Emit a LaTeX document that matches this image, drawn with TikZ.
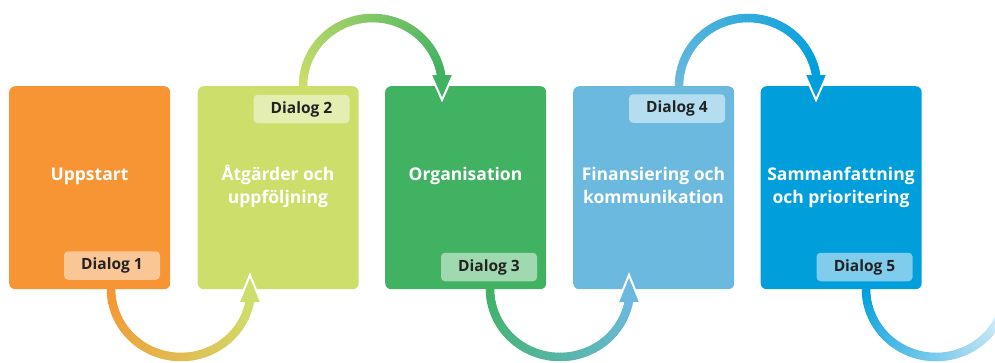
\documentclass[tikz,border=0pt]{standalone}
\usepackage{fontspec}
\usetikzlibrary{calc}
\setmainfont{Open Sans}
\definecolor{cOrange}{HTML}{F79433}
\definecolor{cOrangeL}{HTML}{FAC696}
\definecolor{cLime}{HTML}{CDDF6A}
\definecolor{cLimeL}{HTML}{E3EEB0}
\definecolor{cGreen}{HTML}{40B262}
\definecolor{cGreenL}{HTML}{A0D8B0}
\definecolor{cSky}{HTML}{6BB9DE}
\definecolor{cSkyL}{HTML}{B4DEF0}
\definecolor{cBlue}{HTML}{009FDB}
\definecolor{cBlueL}{HTML}{80CCED}
\definecolor{cFade}{HTML}{F0F6FD}
\definecolor{cText}{HTML}{222222}
% #1 cx, #2 cy, #3 rx, #4 ry, #5 start angle, #6 end angle, #7 colour 1, #8 colour 2
\newcommand{\gradarc}[8]{%
  \foreach \i in {0,...,59}{%
    \pgfmathsetmacro{\aa}{#5+(#6-#5)*\i/60}%
    \pgfmathsetmacro{\ab}{#5+(#6-#5)*(\i+1)/60}%
    \pgfmathtruncatemacro{\pp}{100*\i/59}%
    \draw[arcline, draw={#8!\pp!#7}] ({#1+#3*cos(\aa)},{#2+#4*sin(\aa)}) -- ({#1+#3*cos(\ab)},{#2+#4*sin(\ab)});
  }%
}
\begin{document}
\begin{tikzpicture}[x=1pt,y=-1pt,
  arcline/.style={line width=8.5pt, line cap=round},
  stepbox/.style={rounded corners=6pt, minimum width=161pt, minimum height=203pt, inner sep=0pt, anchor=north west},
  dlabel/.style={rounded corners=4pt, minimum width=96pt, minimum height=28.5pt, inner sep=0pt, text=cText, font=\bfseries\fontsize{15.5}{18}\selectfont},
  title/.style={text=white, font=\bfseries\fontsize{17.5}{23}\selectfont, align=center, anchor=base, inner sep=0pt},
  headtip/.style={white, line width=2pt, line join=miter}
]
\useasboundingbox (0,0) rectangle (995,362);
\begin{scope}
\clip (0,0) rectangle (995,362);
% arcs
\gradarc{181}{289}{70}{68}{180}{10}{cOrange}{cLime}
\gradarc{372.5}{86}{69.5}{68}{180}{350}{cLime}{cGreen}
\gradarc{560}{289}{70}{68}{180}{10}{cGreen}{cSky}
\gradarc{748}{86}{69}{68}{180}{350}{cSky}{cBlue}
\gradarc{936}{289}{70}{68}{180}{0}{cBlue}{cFade}
\end{scope}
% boxes
\node[stepbox, fill=cOrange] (b1) at (9,86) {};
\node[stepbox, fill=cLime]   (b2) at (197.5,86) {};
\node[stepbox, fill=cGreen]  (b3) at (385,86) {};
\node[stepbox, fill=cSky]    (b4) at (573,86) {};
\node[stepbox, fill=cBlue]   (b5) at (760.5,86) {};
% arrow heads
\coordinate (h1) at (250,302);
\coordinate (h2) at (442,75);
\coordinate (h3) at (629,302);
\coordinate (h4) at (816,75);
\fill[cLime] ($(h1)+(-11,0)$) -- ($(h1)+(0,-27)$) -- ($(h1)+(11,0)$) -- cycle;
\draw[headtip] ($(h1)+(-11,0)$) -- ($(h1)+(0,-27)$) -- ($(h1)+(11,0)$);
\fill[cGreen] ($(h2)+(-11,0)$) -- ($(h2)+(0,25)$) -- ($(h2)+(11,0)$) -- cycle;
\draw[headtip] ($(h2)+(-11,0)$) -- ($(h2)+(0,25)$) -- ($(h2)+(11,0)$);
\fill[cSky] ($(h3)+(-11,0)$) -- ($(h3)+(0,-27)$) -- ($(h3)+(11,0)$) -- cycle;
\draw[headtip] ($(h3)+(-11,0)$) -- ($(h3)+(0,-27)$) -- ($(h3)+(11,0)$);
\fill[cBlue] ($(h4)+(-11,0)$) -- ($(h4)+(0,25)$) -- ($(h4)+(11,0)$) -- cycle;
\draw[headtip] ($(h4)+(-11,0)$) -- ($(h4)+(0,25)$) -- ($(h4)+(11,0)$);
% labels
\node[dlabel, fill=cOrangeL] (d1) at (112,265.5) {Dialog 1};
\node[dlabel, fill=cLimeL]   (d2) at (301.5,109) {Dialog 2};
\node[dlabel, fill=cGreenL]  (d3) at (489,267) {Dialog 3};
\node[dlabel, fill=cSkyL]    (d4) at (677,108.5) {Dialog 4};
\node[dlabel, fill=cBlueL]   (d5) at (864.5,267) {Dialog 5};
% titles (base anchor = baseline of last line)
\node[title] (t1) at (89.5,180) {Uppstart};
\node[title] (t2) at (278,203) {Åtgärder och\\uppföljning};
\node[title] (t3) at (465.5,180) {Organisation};
\node[title] (t4) at (653.5,203) {Finansiering och\\kommunikation};
\node[title] (t5) at (841,203) {Sammanfattning\\och prioritering};
\end{tikzpicture}
\end{document}
